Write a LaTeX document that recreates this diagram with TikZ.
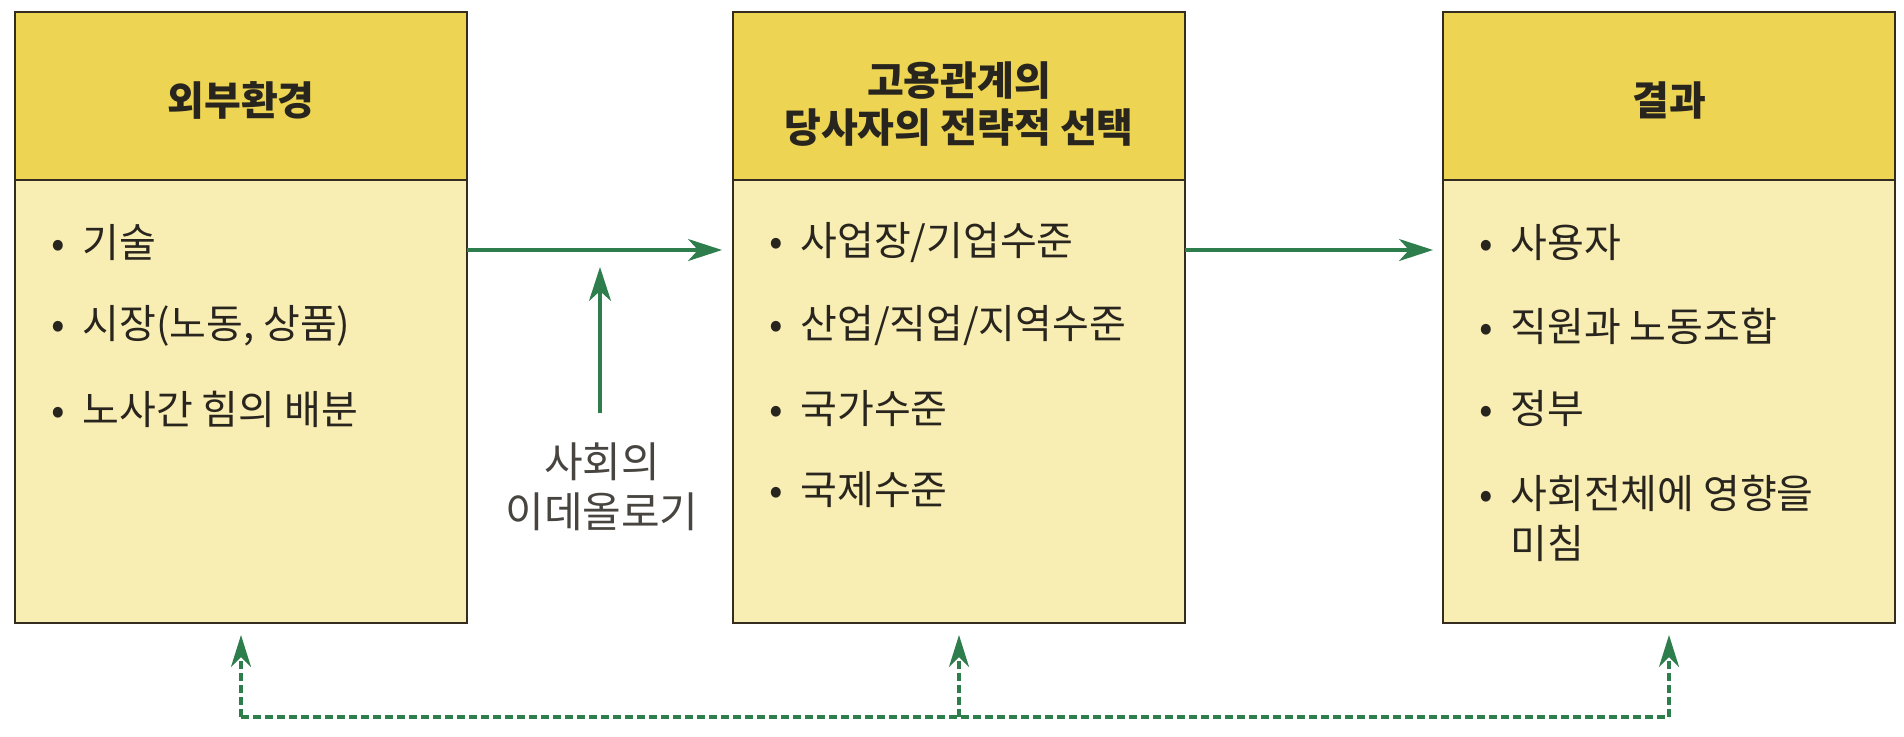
\documentclass[tikz,border=0pt]{standalone}
\usepackage{fontspec}
\setmainfont{Noto Sans CJK KR}
\usetikzlibrary{arrows.meta,positioning}
\definecolor{headfill}{RGB}{237,213,83}
\definecolor{bodyfill}{RGB}{248,237,178}
\definecolor{edge}{RGB}{52,44,30}
\definecolor{arrowgreen}{RGB}{46,125,76}
\definecolor{inktext}{RGB}{40,36,30}
\newcommand{\itm}{\makebox[15.5pt][l]{•}}
\tikzset{
  headbox/.style={draw=edge, line width=1.35pt, fill=headfill, minimum width=226pt, minimum height=84pt, outer sep=0pt},
  headtext/.style={inner sep=0pt, align=center, font=\fontsize{20}{23.5}\selectfont\bfseries, text=inktext},
  bodybox/.style={draw=edge, line width=1.35pt, fill=bodyfill, minimum width=226pt, minimum height=221.5pt, outer sep=0pt},
  item/.style={anchor=west, inner sep=0pt, align=left, font=\fontsize{20}{25}\selectfont, text=inktext},
  ideotext/.style={inner sep=0pt, align=center, font=\fontsize{21}{25}\selectfont, text=inktext!85!white},
  flowarrow/.style={draw=arrowgreen, line width=1.6pt, -{Stealth[length=17pt,width=11pt,inset=5pt]}},
  fback/.style={draw=arrowgreen, line width=1.8pt, dash pattern=on 4pt off 2pt},
  fbacktip/.style={-{Stealth[length=16pt,width=10pt,inset=5pt]}, shorten >=6pt},
}
\begin{document}
\begin{tikzpicture}[x=0.5pt,y=-0.5pt]
\useasboundingbox (0,0) rectangle (1904,736);

%Shape: Rectangle [header and body, left]
\node[headbox] (envhead) at (241,96) {};
\node[bodybox, below=0pt of envhead] (envbody) {};
%Shape: Rectangle [header and body, middle]
\node[headbox] (chhead) at (959,96) {};
\node[bodybox, below=0pt of chhead] (chbody) {};
%Shape: Rectangle [header and body, right]
\node[headbox] (reshead) at (1669,96) {};
\node[bodybox, below=0pt of reshead] (resbody) {};

% Text Node
\node[headtext] (envtitle) at (241,100) {외부환경};
% Text Node
\node[headtext] (chtitle) at (959,104) {고용관계의\\당사자의 전략적 선택};
% Text Node
\node[headtext] (restitle) at (1669,100) {결과};

% Text Node
\node[item] (env1) at (51,243) {\itm 기술};
% Text Node
\node[item] (env2) at (51,326) {\itm 시장(노동, 상품)};
% Text Node
\node[item] (env3) at (51,409) {\itm 노사간 힘의 배분};

% Text Node
\node[item] (ch1) at (769,243) {\itm 사업장/기업수준};
% Text Node
\node[item] (ch2) at (769,326) {\itm 산업/직업/지역수준};
% Text Node
\node[item] (ch3) at (769,409) {\itm 국가수준};
% Text Node
\node[item] (ch4) at (769,490) {\itm 국제수준};

% Text Node
\node[item] (res1) at (1479,243) {\itm 사용자};
% Text Node
\node[item] (res2) at (1479,326) {\itm 직원과 노동조합};
% Text Node
\node[item] (res3) at (1479,409) {\itm 정부};
% Text Node
\node[item] (res4) at (1479,518) {\itm 사회전체에 영향을\\\hspace*{15.5pt}미침};

% Text Node
\node[ideotext] (ideo) at (602,487) {사회의\\이데올로기};

%Straight Lines [flow]
\coordinate (flow) at (600,250);
\draw[flowarrow, shorten >=5.5pt] (envbody.east |- flow) -- (chbody.west |- flow);
\draw[flowarrow, shorten >=5pt] (chbody.east |- flow) -- (resbody.west |- flow);
%Straight Lines [ideology]
\coordinate (ideotail) at (600,413);
\draw[flowarrow, shorten >=8.5pt] (ideotail) -- (ideotail |- flow);

%Straight Lines [feedback, dashed]
\coordinate (fb) at (958,717);
\draw[fback] (envbody.south |- fb) -- (resbody.south |- fb);
\draw[fback, fbacktip] (envbody.south |- fb) -- (envbody.south);
\draw[fback, fbacktip] (chbody.south |- fb) -- (chbody.south);
\draw[fback, fbacktip] (resbody.south |- fb) -- (resbody.south);
\end{tikzpicture}
\end{document}
